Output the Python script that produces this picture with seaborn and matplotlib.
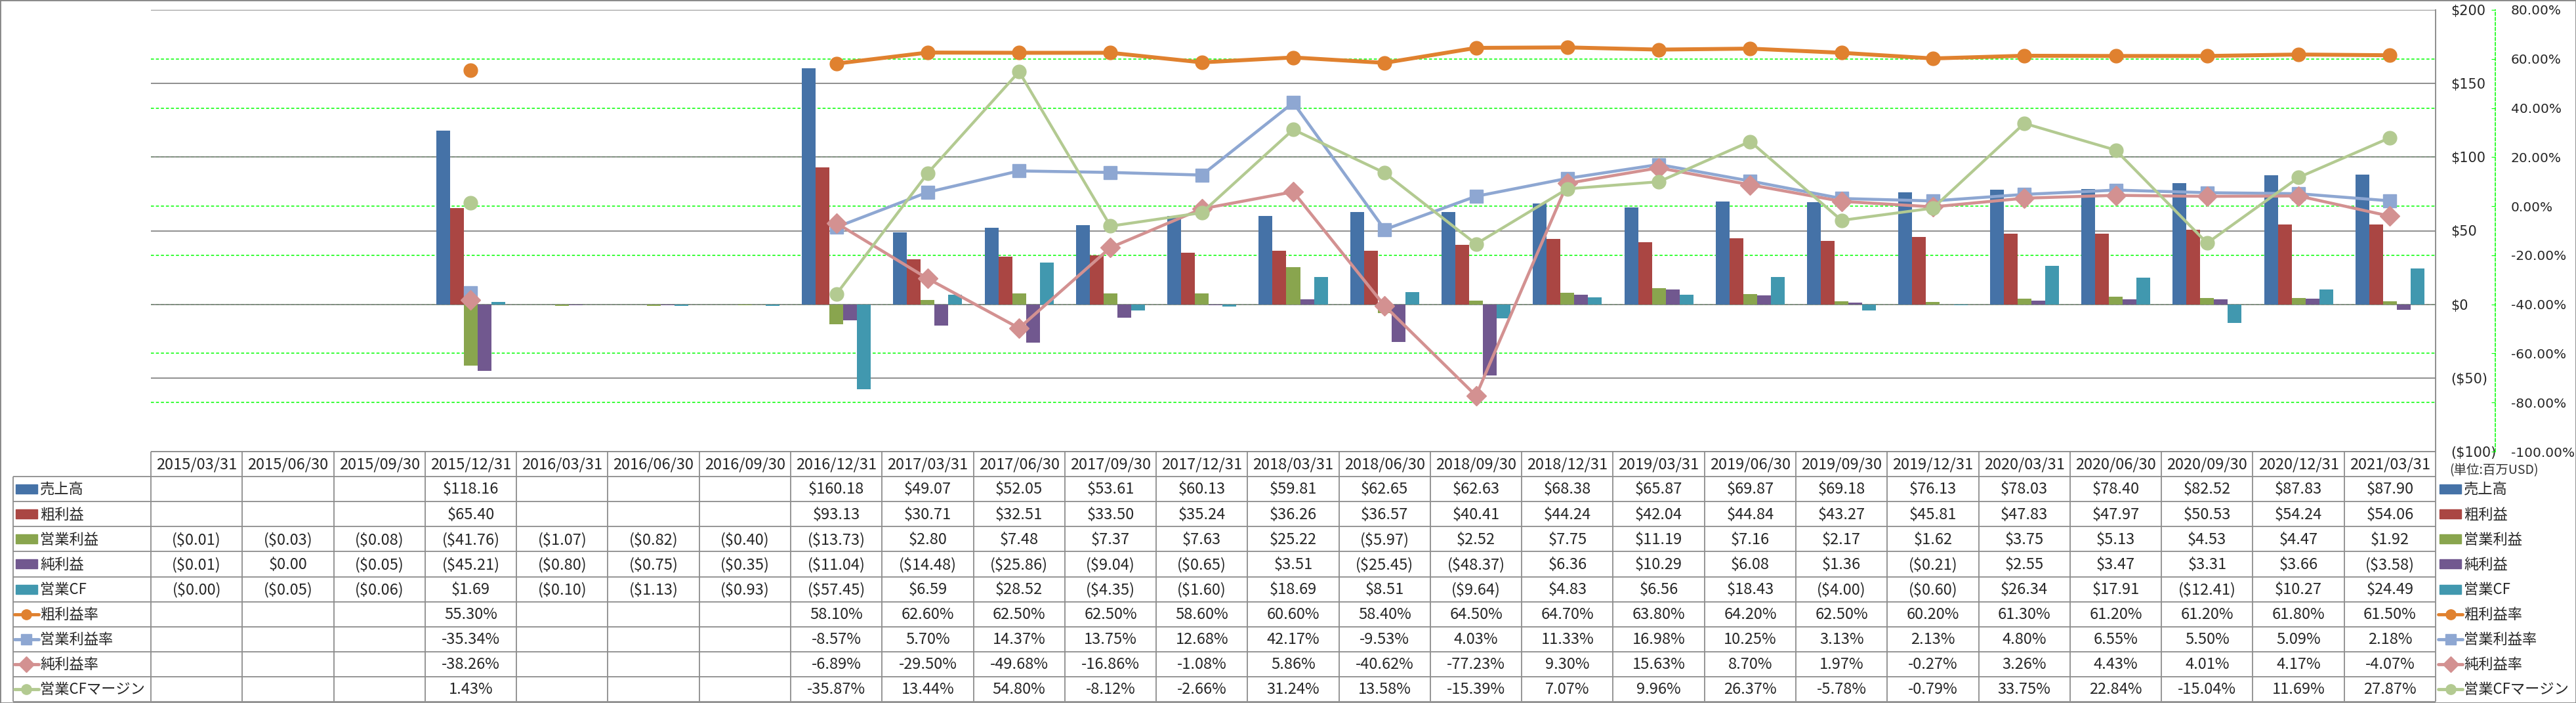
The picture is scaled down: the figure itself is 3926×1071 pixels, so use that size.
import numpy as np
import pandas as pd
import matplotlib
matplotlib.use("Agg")
import matplotlib.pyplot as plt
from matplotlib import font_manager
from matplotlib.patches import Rectangle
from matplotlib.ticker import FixedLocator
import seaborn as sns

nan = np.nan

# Data (百万USD / %)
dates = ["2015/03/31", "2015/06/30", "2015/09/30", "2015/12/31", "2016/03/31", "2016/06/30",
         "2016/09/30", "2016/12/31", "2017/03/31", "2017/06/30", "2017/09/30", "2017/12/31",
         "2018/03/31", "2018/06/30", "2018/09/30", "2018/12/31", "2019/03/31", "2019/06/30",
         "2019/09/30", "2019/12/31", "2020/03/31", "2020/06/30", "2020/09/30", "2020/12/31",
         "2021/03/31"]
sales = [nan, nan, nan, 118.16, nan, nan, nan, 160.18, 49.07, 52.05, 53.61, 60.13, 59.81,
         62.65, 62.63, 68.38, 65.87, 69.87, 69.18, 76.13, 78.03, 78.40, 82.52, 87.83, 87.90]
gross = [nan, nan, nan, 65.40, nan, nan, nan, 93.13, 30.71, 32.51, 33.50, 35.24, 36.26,
         36.57, 40.41, 44.24, 42.04, 44.84, 43.27, 45.81, 47.83, 47.97, 50.53, 54.24, 54.06]
op_income = [-0.01, -0.03, -0.08, -41.76, -1.07, -0.82, -0.40, -13.73, 2.80, 7.48, 7.37, 7.63,
             25.22, -5.97, 2.52, 7.75, 11.19, 7.16, 2.17, 1.62, 3.75, 5.13, 4.53, 4.47, 1.92]
net_income = [-0.01, 0.00, -0.05, -45.21, -0.80, -0.75, -0.35, -11.04, -14.48, -25.86, -9.04,
              -0.65, 3.51, -25.45, -48.37, 6.36, 10.29, 6.08, 1.36, -0.21, 2.55, 3.47, 3.31,
              3.66, -3.58]
op_cf = [-0.004, -0.05, -0.06, 1.69, -0.10, -1.13, -0.93, -57.45, 6.59, 28.52, -4.35, -1.60,
         18.69, 8.51, -9.64, 4.83, 6.56, 18.43, -4.00, -0.60, 26.34, 17.91, -12.41, 10.27, 24.49]

gross_margin = [nan, nan, nan, 55.30, nan, nan, nan, 58.10, 62.60, 62.50, 62.50, 58.60, 60.60,
                58.40, 64.50, 64.70, 63.80, 64.20, 62.50, 60.20, 61.30, 61.20, 61.20, 61.80, 61.50]
op_margin = [nan, nan, nan, -35.34, nan, nan, nan, -8.57, 5.70, 14.37, 13.75, 12.68, 42.17,
             -9.53, 4.03, 11.33, 16.98, 10.25, 3.13, 2.13, 4.80, 6.55, 5.50, 5.09, 2.18]
net_margin = [nan, nan, nan, -38.26, nan, nan, nan, -6.89, -29.50, -49.68, -16.86, -1.08, 5.86,
              -40.62, -77.23, 9.30, 15.63, 8.70, 1.97, -0.27, 3.26, 4.43, 4.01, 4.17, -4.07]
cf_margin = [nan, nan, nan, 1.43, nan, nan, nan, -35.87, 13.44, 54.80, -8.12, -2.66, 31.24,
             13.58, -15.39, 7.07, 9.96, 26.37, -5.78, -0.79, 33.75, 22.84, -15.04, 11.69, 27.87]

bar_names = ["売上高", "粗利益", "営業利益", "純利益", "営業CF"]
bar_values = [sales, gross, op_income, net_income, op_cf]
bar_colors = ["#4572A7", "#AA4643", "#89A54E", "#71588F", "#4198AF"]

line_names = ["粗利益率", "営業利益率", "純利益率", "営業CFマージン"]
line_values = [gross_margin, op_margin, net_margin, cf_margin]
line_colors = ["#E0812F", "#8EA7D2", "#D39191", "#B3CA91"]
line_markers = ["o", "s", "D", "o"]
line_widths = [4.3, 3.3, 3.3, 3.1]
marker_sizes = [15, 14, 15.5, 15]

# Layout (pixels)
W, H, DPI = 3926, 1071, 100
PL, PR, PT, PB = 230, 3712, 15, 688
TB = 1069
GRID = "#868686"
LIME = "#00FF00"

sns.set_style("white")
installed = {f.name for f in font_manager.fontManager.ttflist}
if "Liberation Sans Narrow" in installed:
    TFONT, TS, LS = ["Liberation Sans Narrow", "Noto Sans CJK JP"], 18, 18
else:
    TFONT, TS, LS = ["Noto Sans CJK JP", "DejaVu Sans"], 17, 16
plt.rcParams["font.family"] = ["DejaVu Sans", "Noto Sans CJK JP"]

fig = plt.figure(figsize=(W / DPI, H / DPI), dpi=DPI)
ax = fig.add_axes([PL / W, 1 - PB / H, (PR - PL) / W, (PB - PT) / H])

# Bars
bars = pd.DataFrame({"date": dates, **dict(zip(bar_names, bar_values))})
bars = bars.melt(id_vars="date", var_name="series", value_name="value")
sns.barplot(data=bars, x="date", y="value", hue="series", order=dates, hue_order=bar_names,
            palette=dict(zip(bar_names, bar_colors)), width=0.755, saturation=1,
            errorbar=None, linewidth=0, legend=False, ax=ax)

# Lines (secondary axis)
ax2 = ax.twinx()
xs = np.arange(len(dates))
for name, vals, c, m, lw, ms in zip(line_names, line_values, line_colors, line_markers,
                                    line_widths, marker_sizes):
    ax2.plot(xs, vals, color=c, lw=lw, marker=m, ms=ms, mec=c, mfc=c, solid_capstyle="round")

ax.set_xlim(-0.5, len(dates) - 0.5)
ax.set_ylim(-100, 200)
prim_ticks = list(range(-100, 201, 50))
ax.yaxis.set_major_locator(FixedLocator(prim_ticks))
ax.set_yticklabels([f"${v}" if v >= 0 else f"(${-v})" for v in prim_ticks])
for lab, v in zip(ax.get_yticklabels(), prim_ticks):
    lab.set_color("red" if v < 0 else "black")
ax.yaxis.tick_right()
ax.tick_params(axis="y", length=0, pad=16.5, labelsize=15)
ax.set_xticks([])
ax.set_xlabel("")
ax.set_ylabel("")
for s in ["left", "top", "bottom"]:
    ax.spines[s].set_visible(False)
ax.spines["right"].set_color(GRID)
ax.spines["right"].set_linewidth(1.3)
ax.grid(axis="y", color=GRID, lw=1.3)
ax.set_axisbelow(True)

# secondary-axis gridlines drawn behind the bars
sec_ticks = list(range(-100, 81, 20))
for p in sec_ticks[1:-1]:
    ax.axhline(-100 + (p + 100) / 180 * 300, color=LIME, lw=1.1, ls=(0, (3, 2)), zorder=0.4)

ax2.set_ylim(-100, 80)
ax2.yaxis.set_major_locator(FixedLocator(sec_ticks))
ax2.set_yticklabels([f"{v:.2f}%" for v in sec_ticks])
for lab, v in zip(ax2.get_yticklabels(), sec_ticks):
    lab.set_color("red" if v < 0 else "black")
for s in ["left", "top", "bottom"]:
    ax2.spines[s].set_visible(False)
ax2.spines["right"].set_position(("outward", (3803 - PR) * 0.72))
ax2.spines["right"].set_color(LIME)
ax2.spines["right"].set_linestyle((0, (3, 2)))
ax2.spines["right"].set_linewidth(1.1)
ax2.tick_params(axis="y", direction="in", length=4, color=LIME, pad=17, labelsize=14.5)

# Data table
w = (PR - PL) / len(dates)
tax = fig.add_axes([20 / W, 1 - TB / H, (W - 20) / W, (TB - PB) / H])
tax.set_xlim(-0.5 - (PL - 20) / w, len(dates) - 0.5 + (W - PR) / w)
tax.set_ylim(10, 0)
tax.axis("off")


def px(x):
    return -0.5 + (x - PL) / w


def money(v):
    if np.isnan(v):
        return ""
    return f"${v:.2f}" if v >= 0 else f"(${abs(v):.2f})"


def pct(v):
    return "" if np.isnan(v) else f"{v:.2f}%"


TGRAY = "#8C8C8C"
last = len(dates) - 0.5
tax.hlines(0, -0.5, last, color=TGRAY, lw=1.3, clip_on=False)
tax.hlines(np.arange(1, 11), px(20), last, color=TGRAY, lw=1.3, clip_on=False)
tax.vlines(np.arange(-0.5, len(dates)), 0, 10, color=TGRAY, lw=1.3, clip_on=False)
tax.vlines(px(20), 1, 10, color=TGRAY, lw=1.3, clip_on=False)

for i, d in enumerate(dates):
    tax.text(i, 0.52, d, ha="center", va="center", family=TFONT, size=TS)

rows = [(n, v, money) for n, v in zip(bar_names, bar_values)] + \
       [(n, v, pct) for n, v in zip(line_names, line_values)]
for r, (name, vals, fmt) in enumerate(rows, start=1):
    for i, v in enumerate(vals):
        tax.text(i, r + 0.52, fmt(v), ha="center", va="center", family=TFONT, size=TS)


def legend_key(x0, y, k):
    if k < len(bar_names):
        tax.add_patch(Rectangle((px(x0), y - 7 / 38.1), 33 / w, 14 / 38.1,
                                color=bar_colors[k], clip_on=False))
    else:
        j = k - len(bar_names)
        tax.plot([px(x0 - 2), px(x0 + 35)], [y, y], color=line_colors[j], lw=3.5,
                 clip_on=False)
        tax.plot([px(x0 + 16.5)], [y], marker=line_markers[j], color=line_colors[j],
                 ms=11 if line_markers[j] != "D" else 12, clip_on=False)


for r, (name, vals, fmt) in enumerate(rows, start=1):
    legend_key(24, r + 0.5, r - 1)
    tax.text(px(61), r + 0.52, name, ha="left", va="center", family=TFONT, size=LS)
    legend_key(3718, r + 0.5, r - 1)
    tax.text(px(3755), r + 0.52, name, ha="left", va="center", family=TFONT, size=LS)

tax.text(px(3733), 0.76, "(単位:百万USD)", ha="left", va="center", family=TFONT,
         size=14, color="#333333")

fig.patches.append(Rectangle((0, 0), 1, 1, transform=fig.transFigure, fill=False,
                             ec=GRID, lw=2))

fig.savefig("out.png", dpi=DPI)
